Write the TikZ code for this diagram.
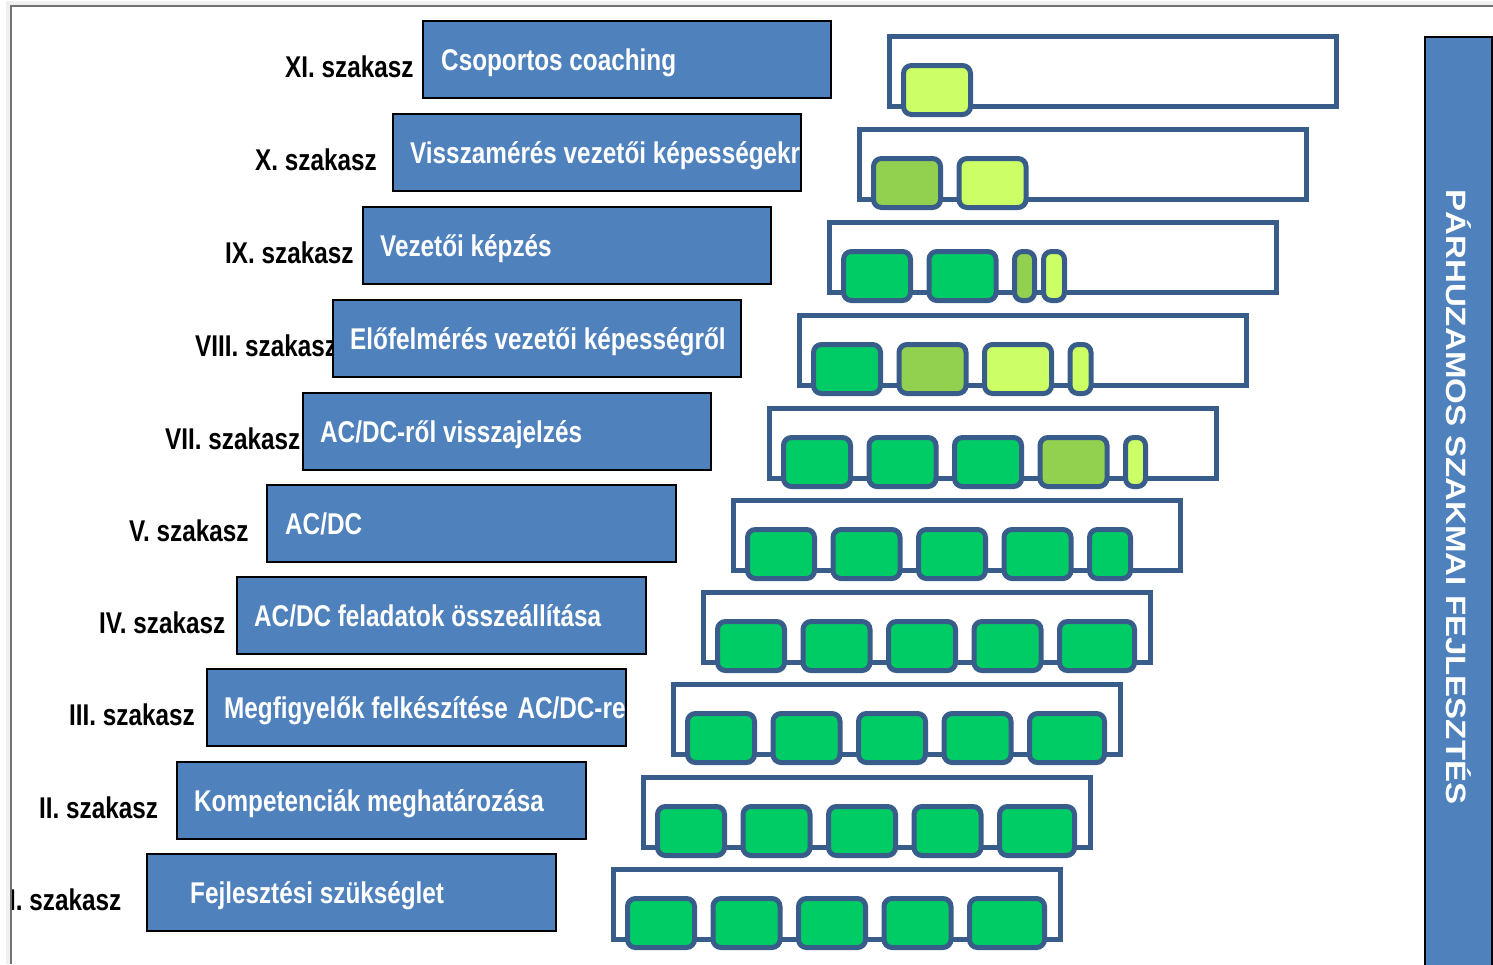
\documentclass[tikz,border=0pt]{standalone}
\usepackage{fontspec}
\setmainfont{Liberation Sans}
\newfontfamily\narrowsans[FakeStretch=0.81]{Liberation Sans}
\newfontfamily\widesans[FakeStretch=1.18]{Liberation Sans}
\usetikzlibrary{calc}

\definecolor{boxblue}{HTML}{4F81BD}
\definecolor{lineblue}{HTML}{385D8A}
\definecolor{phgreen}{HTML}{00CC66}
\definecolor{midgreen}{HTML}{92D050}
\definecolor{lightgreen}{HTML}{CCFF66}

\tikzset{
rowlabel/.style={font={\narrowsans\bfseries\fontsize{30}{36}\selectfont}, text=black, inner sep=0pt},
phasetext/.style={font={\narrowsans\bfseries\fontsize{30}{36}\selectfont}, text=white, inner sep=0pt},
phase/.style={draw=black, line width=1.5pt, fill=boxblue, minimum height=77pt, inner sep=0pt, anchor=north west},
stage/.style={draw=lineblue, line width=5pt, fill=white},
slot/.style={draw=lineblue, line width=5pt, rounded corners=8pt},
sidebar/.style={draw=black, line width=1.5pt, fill=boxblue, minimum width=67pt, minimum height=940pt, inner sep=0pt, anchor=north west},
sidetext/.style={font={\widesans\bfseries\fontsize{28}{32}\selectfont}, text=white, inner sep=0pt}
}

\begin{document}
\begin{tikzpicture}[x=1pt,y=-1pt]
\useasboundingbox (0,0) rectangle (1493,964);

% page edge
\draw[line width=5pt, black!6] (8.5,964) -- (8.5,3.5) -- (1493,3.5);
\draw[line width=1.5pt, black!55] (11,964) -- (11,6) -- (1493,6);

\begin{scope}
\clip (12,7) rectangle (1493,964);
\foreach \nm/\x/\y/\w/\ins/\lab/\txt in {
XI/422/20/408/19/XI. szakasz/Csoportos coaching,
X/392/113/408/18/X. szakasz/Visszamérés vezetői képességekr,
IX/362/206/408/18/IX. szakasz/Vezetői képzés,
VIII/332/299/408/18/VIII. szakasz/Előfelmérés vezetői képességről,
VII/302/392/408/18/VII. szakasz/{AC/DC-ről visszajelzés},
V/266/484/409/19/V. szakasz/{AC/DC},
IV/236/576/409/18/IV. szakasz/{AC/DC feladatok összeállítása},
III/206/668/419/18/III. szakasz/{Megfigyelők felkészítése\hspace{3pt} AC/DC-re},
II/176/761/409/18/II. szakasz/Kompetenciák meghatározása,
I/146/853/409/44/I. szakasz/Fejlesztési szükséglet}{
\node[rowlabel, anchor=base west] (l\nm) at (\x-137,\y+57) {\lab};
\node[phase, minimum width=\w] (b\nm) at (\x,\y) {};
\begin{scope}
\clip (b\nm.south west) rectangle (b\nm.north east);
\node[phasetext, anchor=base west] (t\nm) at (\x+\ins,\y+50.5) {\txt};
\end{scope}
\draw[stage] (\x+467.5,\y+16.5) rectangle ++(447,70);
\coordinate (s\nm) at (\x+481.5,\y+45.5);
}

% boxes inside each stage
\foreach \p/\sw/\c in {0/72/lightgreen}{
\draw[slot, fill=\c] ($(sXI)+(\p,0)$) rectangle ++(\sw-5,49);
}
\foreach \p/\sw/\c in {0/72/midgreen,85.5/72/lightgreen}{
\draw[slot, fill=\c] ($(sX)+(\p,0)$) rectangle ++(\sw-5,49);
}
\foreach \p/\sw/\c in {0/72/phgreen,85.5/72/phgreen,171/25/midgreen,200/26/lightgreen}{
\draw[slot, fill=\c] ($(sIX)+(\p,0)$) rectangle ++(\sw-5,49);
}
\foreach \p/\sw/\c in {0/72/phgreen,85.5/72/midgreen,171/72/lightgreen,256.5/26/lightgreen}{
\draw[slot, fill=\c] ($(sVIII)+(\p,0)$) rectangle ++(\sw-5,49);
}
\foreach \p/\sw/\c in {0/72/phgreen,85.5/72/phgreen,171/72/phgreen,256.5/72/midgreen,342/25/lightgreen}{
\draw[slot, fill=\c] ($(sVII)+(\p,0)$) rectangle ++(\sw-5,49);
}
\foreach \p/\sw/\c in {0/72/phgreen,85.5/72/phgreen,171/72/phgreen,256.5/72/phgreen,342/46/phgreen}{
\draw[slot, fill=\c] ($(sV)+(\p,0)$) rectangle ++(\sw-5,49);
}
\foreach \r in {IV,III,II,I}{
\foreach \p/\sw/\c in {0/72/phgreen,85.5/72/phgreen,171/72/phgreen,256.5/72/phgreen,342/80/phgreen}{
\draw[slot, fill=\c] ($(s\r)+(\p,0)$) rectangle ++(\sw-5,49);
}
}

% parallel development
\node[sidebar] (side) at (1424,36) {};
\node[sidetext, rotate=-90] (sidet) at (1459,497) {PÁRHUZAMOS SZAKMAI FEJLESZTÉS};
\end{scope}

\end{tikzpicture}
\end{document}
